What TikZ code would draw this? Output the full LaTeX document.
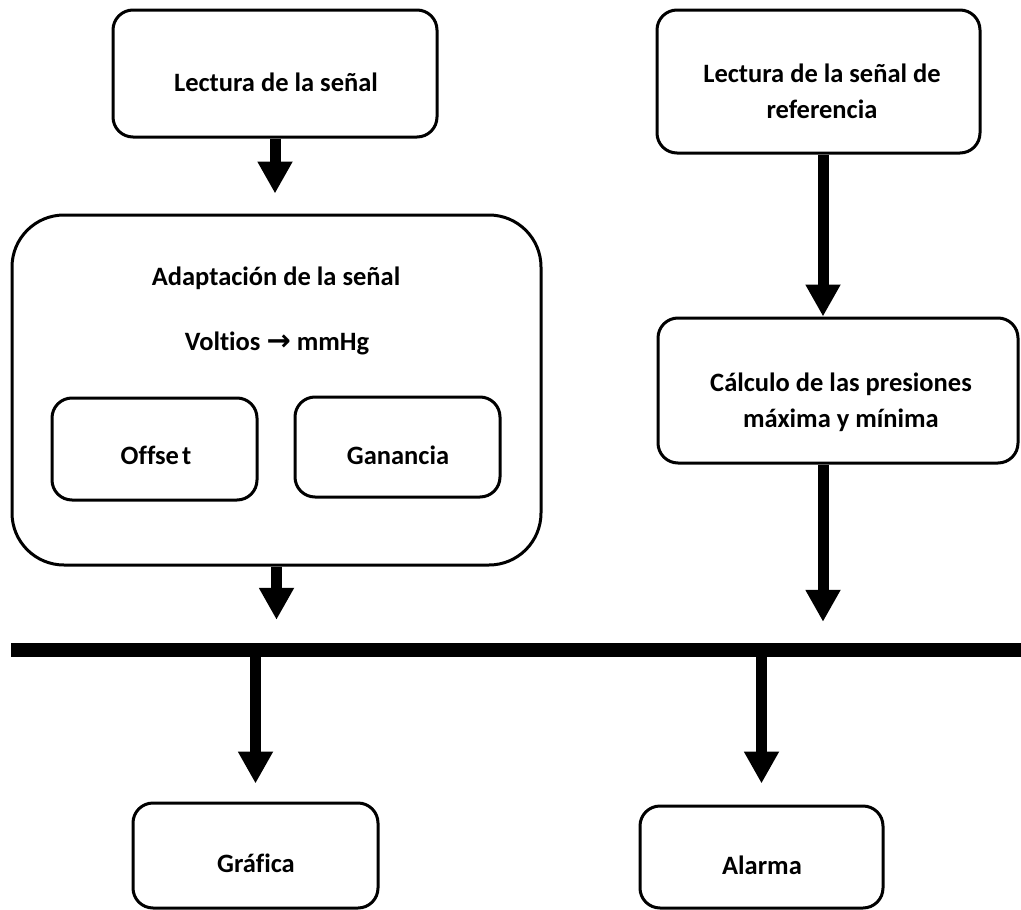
\documentclass[tikz,border=0pt]{standalone}
\usepackage{fontspec}
\setmainfont{Carlito}[Ligatures=NoCommon]
\newfontfamily\symfont{DejaVu Sans}
\usetikzlibrary{arrows.meta}
\begin{document}
\begin{tikzpicture}[x=1pt,y=-1pt,
  box/.style={draw, line width=3pt, rounded corners=20pt, inner sep=0pt},
  bigbox/.style={box, rounded corners=52pt},
  lbl/.style={font=\bfseries\fontsize{26.5}{36}\selectfont, align=center, inner sep=0pt},
  flow/.style={line width=11pt, -{Triangle[width=33pt,length=32pt]}},
  busbar/.style={fill=black, inner sep=0pt}
]
\useasboundingbox (0,0) rectangle (1021,910);

% boxes
\node[box, minimum width=324pt, minimum height=127pt] (lect) at (275,73.5) {};
\node[box, minimum width=323pt, minimum height=143pt] (ref) at (818.5,81.5) {};
\node[bigbox, minimum width=529pt, minimum height=350pt] (adapt) at (276.5,390) {};
\node[box, minimum width=205pt, minimum height=102pt] (offs) at (154.5,449) {};
\node[box, minimum width=205pt, minimum height=100pt] (gain) at (397.5,447) {};
\node[box, minimum width=360pt, minimum height=145pt] (calc) at (838,390.5) {};
\node[box, minimum width=245pt, minimum height=105pt] (graf) at (255.5,855.5) {};
\node[box, minimum width=243pt, minimum height=102pt] (alarm) at (761.5,857) {};

% common bus
\node[busbar, minimum width=1010pt, minimum height=14pt] (bus) at (516,650) {};

% labels
\node[lbl] (lectT) at (276,82) {Lectura de la señal};
\node[lbl] (refT) at (822,91) {Lectura de la señal de\\referencia};
\node[lbl] (adaptT) at (276,278) {Adaptación de la señal};
\node[lbl] (convT) at (277,343) {Voltios {\symfont\bfseries\fontsize{29}{36}\selectfont →} mmHg};
\node[lbl] (offsT) at (156,455) {Offse\kern3pt t};
\node[lbl] (gainT) at (398,455) {Ganancia};
\node[lbl] (calcT) at (841,402) {Cálculo de las presiones\\máxima y mínima};
\node[lbl] (grafT) at (256,863) {Gráfica};
\node[lbl] (alarmT) at (762,865) {Alarma};

% right-hand column of arrows
\coordinate (rcol) at (823,0);

% connectors
\draw[flow, shorten >=20pt] (lect.south) -- (lect.south |- adapt.north);
\draw[flow] (ref.south -| rcol) -- (calc.north -| rcol);
\draw[flow, shorten >=23pt] (adapt.south) -- (adapt.south |- bus.north);
\draw[flow, shorten >=21pt] (calc.south -| rcol) -- (bus.north -| rcol);
\draw[flow, shorten >=18pt] (graf.north |- bus.south) -- (graf.north);
\draw[flow, shorten >=21pt] (alarm.north |- bus.south) -- (alarm.north);
\end{tikzpicture}
\end{document}
